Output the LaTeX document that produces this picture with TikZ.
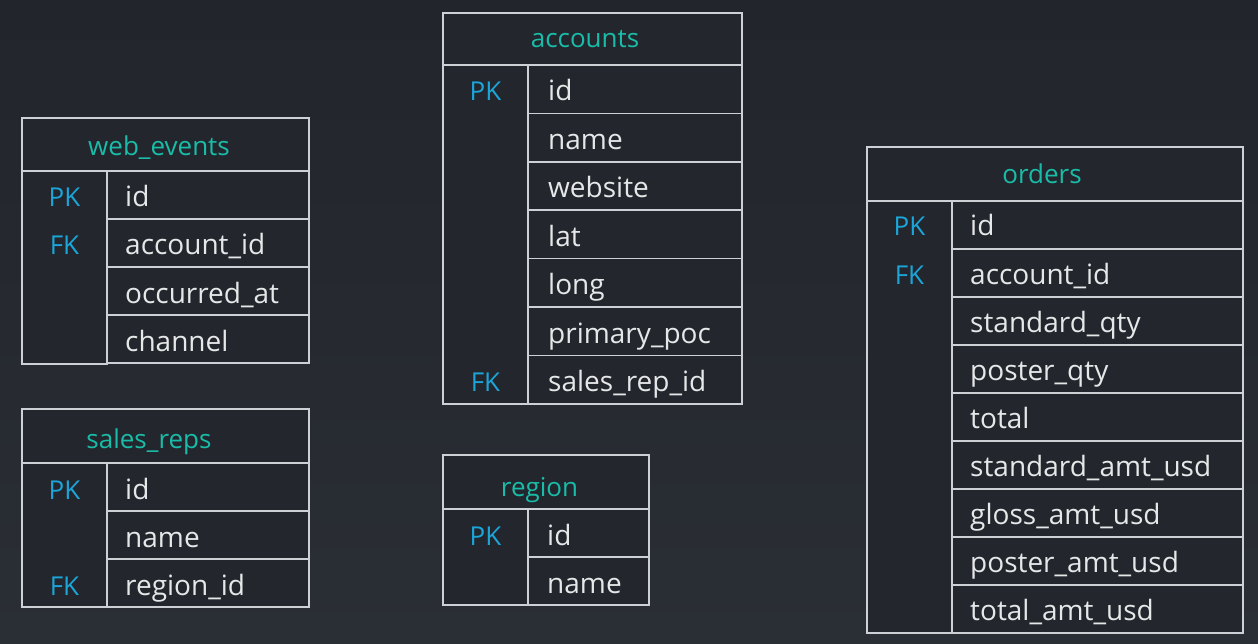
\documentclass[tikz,border=0pt]{standalone}
\usepackage{fontspec}
\setmainfont{Open Sans}

\definecolor{bgtop}{HTML}{22252B}
\definecolor{bgmid}{HTML}{2E333A}
\definecolor{bgbottom}{HTML}{2A2E35}
\definecolor{cellfill}{HTML}{23272D}
\definecolor{framegray}{HTML}{CDD0D4}
\definecolor{headteal}{HTML}{19BCA8}
\definecolor{keyblue}{HTML}{1BA5D8}
\definecolor{fieldgray}{HTML}{E6E7E8}

\tikzset{
  tablebox/.style={draw=framegray, line width=1.7pt, fill=cellfill},
  headtext/.style={text=headteal, font=\fontsize{26}{30}\selectfont, anchor=base, inner sep=0pt},
  keytext/.style={text=keyblue, font=\fontsize{26}{30}\selectfont, anchor=base, inner sep=0pt},
  fieldtext/.style={text=fieldgray, font=\fontsize{28}{32}\selectfont, anchor=base west, inner sep=0pt},
}

\begin{document}
\begin{tikzpicture}[x=1pt,y=-1pt]
        \useasboundingbox (0,0) rectangle (1258,644);
        \shade[top color=bgtop, middle color=bgmid, bottom color=bgbottom] (0,0) rectangle (1258,644);

        % web_events
        \draw[tablebox] (22,118) rectangle (309,171);
        \node[headtext] (webhead) at (159,156) {web\_events};
        \draw[tablebox] (22,171) rectangle (107,364);
        \foreach \i/\f in {0/id, 1/account\_id, 2/occurred\_at, 3/channel} {
            \draw[tablebox] (107,171+48*\i) rectangle (309,219+48*\i);
            \node[fieldtext] (web\i) at (125,207+48*\i) {\f};
        }
        \node[keytext] (webpk) at (64.5,207) {PK};
        \node[keytext] (webfk) at (64.5,255) {FK};

        % sales_reps
        \draw[tablebox] (22,409) rectangle (309,463);
        \node[headtext] (repshead) at (149,448) {sales\_reps};
        \draw[tablebox] (22,463) rectangle (107,607);
        \foreach \i/\f in {0/id, 1/name, 2/region\_id} {
            \draw[tablebox] (107,463+48*\i) rectangle (309,511+48*\i);
            \node[fieldtext] (reps\i) at (125,499+48*\i) {\f};
        }
        \node[keytext] (repspk) at (64.5,499) {PK};
        \node[keytext] (repsfk) at (64.5,595) {FK};

        % accounts
        \draw[tablebox] (443,13) rectangle (742,65);
        \node[headtext] (acchead) at (585,48) {accounts};
        \draw[tablebox] (443,65) rectangle (528,404);
        \foreach \i/\f in {0/id, 1/name, 2/website, 3/lat, 4/long, 5/primary\_poc, 6/sales\_rep\_id} {
            \draw[tablebox] (528,65+48.4*\i) rectangle (742,113.4+48.4*\i);
            \node[fieldtext] (acc\i) at (548,101+48.4*\i) {\f};
        }
        \node[keytext] (accpk) at (485.5,101) {PK};
        \node[keytext] (accfk) at (485.5,391.4) {FK};

        % region
        \draw[tablebox] (443,455) rectangle (649,509);
        \node[headtext] (reghead) at (539.5,496) {region};
        \draw[tablebox] (443,509) rectangle (528,605);
        \foreach \i/\f in {0/id, 1/name} {
            \draw[tablebox] (528,509+48*\i) rectangle (649,557+48*\i);
            \node[fieldtext] (reg\i) at (547,545+48*\i) {\f};
        }
        \node[keytext] (regpk) at (485.5,545) {PK};

        % orders
        \draw[tablebox] (867,147) rectangle (1243,201);
        \node[headtext] (ordhead) at (1042,184) {orders};
        \draw[tablebox] (867,201) rectangle (952,633);
        \foreach \i/\f in {0/id, 1/account\_id, 2/standard\_qty, 3/poster\_qty, 4/total,
                5/standard\_amt\_usd, 6/gloss\_amt\_usd, 7/poster\_amt\_usd, 8/total\_amt\_usd} {
            \draw[tablebox] (952,201+48*\i) rectangle (1243,249+48*\i);
            \node[fieldtext] (ord\i) at (970,236+48*\i) {\f};
        }
        \node[keytext] (ordpk) at (909.5,236) {PK};
        \node[keytext] (ordfk) at (909.5,284) {FK};

    \end{tikzpicture}
\end{document}
